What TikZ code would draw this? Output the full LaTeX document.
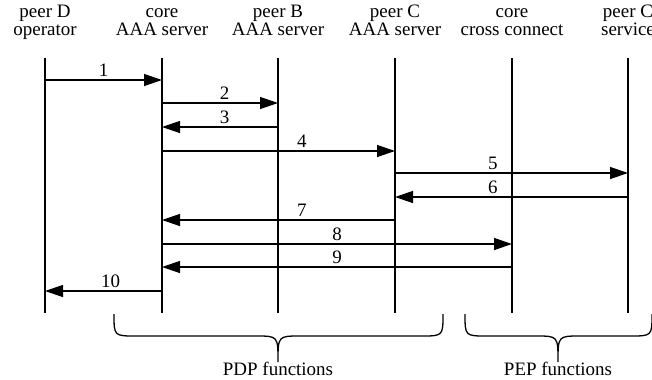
\documentclass[tikz,border=0pt]{standalone}
\usepackage{fontspec}
\setmainfont{Liberation Serif}
\usetikzlibrary{arrows.meta}
\tikzset{
  actor/.style={align=center, anchor=base, inner sep=0,
    font=\fontsize{16.2}{15.3}\selectfont},
  life/.style={line width=1.3pt},
  msg/.style={line width=1.1pt, -{Triangle[length=5.4mm,width=3.6mm]}},
  num/.style={above, inner sep=0.9mm, font=\fontsize{16.2}{15.3}\selectfont},
  brace/.style={line width=1.1pt},
}
\begin{document}
\begin{tikzpicture}[x=0.3mm,y=-0.3mm]
        \clip (0,0) rectangle (652,379);
        % actors
        \node[actor] (D)    at (45,35)  {peer D\\operator};
        \node[actor] (core) at (162,35) {core\\AAA server};
        \node[actor] (B)    at (278,35) {peer B\\AAA server};
        \node[actor] (C)    at (395,35) {peer C\\AAA server};
        \node[actor] (cc)   at (512,35) {core\\cross connect};
        \node[actor] (serv) at (628,35) {peer C\\service};
        % lifelines
        \draw[life] (D |- 0,58) -- (D |- 0,313);
        \draw[life] (core |- 0,58) -- (core |- 0,313);
        \draw[life] (B |- 0,58) -- (B |- 0,313);
        \draw[life] (C |- 0,58) -- (C |- 0,313);
        \draw[life] (cc |- 0,58) -- (cc |- 0,313);
        \draw[life] (serv |- 0,58) -- (serv |- 0,313);
        % messages
        \draw[msg] (D |- 0,80) -- node[num,pos=.5] {1} (core |- 0,80);
        \draw[msg] (core |- 0,103) -- node[num,pos=.54] {2} (B |- 0,103);
        \draw[msg] (B |- 0,127) -- node[num,pos=.46] {3} (core |- 0,127);
        \draw[msg] (core |- 0,151) -- node[num,pos=.6] {4} (C |- 0,151);
        \draw[msg] (C |- 0,173) -- node[num,pos=.42] {5} (serv |- 0,173);
        \draw[msg] (serv |- 0,197) -- node[num,pos=.58] {6} (C |- 0,197);
        \draw[msg] (C |- 0,220) -- node[num,pos=.4] {7} (core |- 0,220);
        \draw[msg] (core |- 0,244) -- node[num,pos=.5] {8} (cc |- 0,244);
        \draw[msg] (cc |- 0,267) -- node[num,pos=.5] {9} (core |- 0,267);
        \draw[msg] (core |- 0,291) -- node[num,pos=.44] {10} (D |- 0,291);
        % braces
        \draw[brace] (114,314) .. controls (114,336) .. (136,336) -- (256,336)
            .. controls (278,336) .. (278,362) .. controls (278,336) .. (300,336)
            -- (421,336) .. controls (443,336) .. (443,314);
        \draw[brace] (465,314) .. controls (465,336) .. (487,336) -- (536,336)
            .. controls (558,336) .. (558,362) .. controls (558,336) .. (580,336)
            -- (630,336) .. controls (652,336) .. (652,314);
        \node[actor] (pdp) at (278,375) {PDP functions};
        \node[actor] (pep) at (558,375) {PEP functions};
    \end{tikzpicture}
\end{document}
